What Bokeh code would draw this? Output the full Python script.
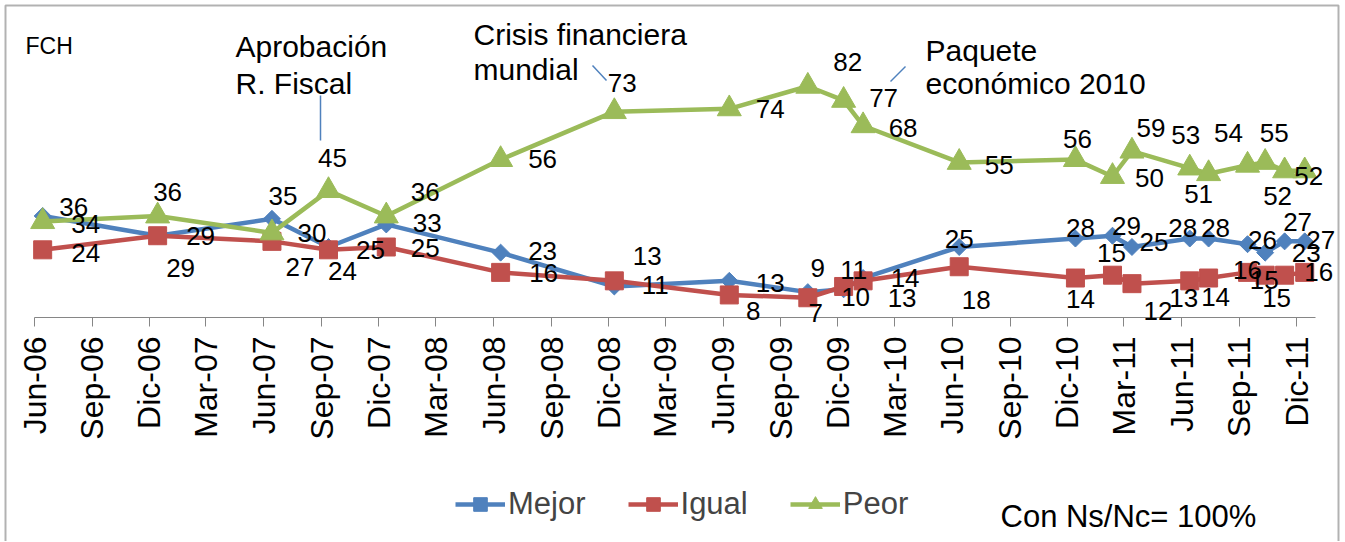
import math
import pandas as pd
from bokeh.plotting import figure
from bokeh.models import (Range1d, FixedTicker, ColumnDataSource, LabelSet, Label,
                          Legend, LegendItem, BoxAnnotation, Arrow)
from bokeh.core.properties import value
from bokeh.embed import file_html
from bokeh.resources import INLINE

# ---------------- data ----------------
dates = ["2006-06-14", "2006-12-14", "2007-06-14", "2007-09-12", "2007-12-13",
         "2008-06-12", "2008-12-10", "2009-06-11", "2009-10-14", "2009-12-10",
         "2010-01-10", "2010-06-12", "2010-12-14", "2011-02-11", "2011-03-14",
         "2011-06-14", "2011-07-14", "2011-09-14", "2011-10-12", "2011-11-12",
         "2011-12-14"]
mejor = [36, 29, 35, 25, 33, 23, 11, 13, 9, 10, 14, 25, 28, 29, 25, 28, 28, 26, 23, 27, 27]
igual = [24, 29, 27, 24, 25, 16, 13, 8, 7, 11, 13, 18, 14, 15, 12, 13, 14, 16, 15, 15, 16]
peor = [34, 36, 30, 45, 36, 56, 73, 74, 82, 77, 68, 55, 56, 50, 59, 53, 51, 54, 55, 52, 52]
series_names = ["Mejor", "Igual", "Peor"]
tick_labels = ["Jun-06", "Sep-06", "Dic-06", "Mar-07", "Jun-07", "Sep-07", "Dic-07",
               "Mar-08", "Jun-08", "Sep-08", "Dic-08", "Mar-09", "Jun-09", "Sep-09",
               "Dic-09", "Mar-10", "Jun-10", "Sep-10", "Dic-10", "Mar-11", "Jun-11",
               "Sep-11", "Dic-11"]
events = ["Aprobación\nR. Fiscal", "Crisis financiera\nmundial", "Paquete\neconómico 2010"]
corner_text = "FCH"
note_text = "Con Ns/Nc= 100%"

# ---------------- layout / style (not data) ----------------
# data-label offsets in pixels (dx right, dy down)
mejor_off = [(31, -9), (43, 0), (11, -23), (42, 3), (41, -1), (42, -2), (41, -1), (41, 2),
             (10, -24), (12, 8), (42, 0), (0, -8), (5, -11), (14, -10), (22, -5), (-7, -11),
             (7, -11), (15, -4), (41, 0), (13, -19), (16, -1)]
igual_off = [(43, 3), (23, 32), (28, 26), (14, 21), (39, 1), (43, 1), (33, -25), (24, 16),
             (8, 15), (10, -16), (39, 17), (17, 33), (5, 21), (-1, -22), (26, 27), (-6, 17),
             (7, 19), (0, -2), (-1, 5), (-8, 23), (14, 0)]
peor_off = [(43, 2), (10, -24), (40, 0), (4, -33), (39, -24), (42, -1), (8, -29), (41, 0),
            (40, -24), (40, -2), (40, 2), (40, 3), (2, -21), (37, 1), (19, -23), (-4, -33),
            (-10, 20), (-19, -32), (9, -29), (-7, 25), (4, 5)]

BLUE, RED, GREEN = "#4F81BD", "#C0504D", "#9BBB59"
FONT = "Liberation Sans"
W, H = 1344, 541
X0_PX, PX_PER_DAY = 34, 0.6282      # pixel of axis start, scale
Y0_PX, PX_PER_UNIT = 317, 2.82      # pixel of value 0, scale

start = pd.Timestamp("2006-06-01")
end = pd.Timestamp("2011-12-31")
xd = [(pd.Timestamp(d) - start).days for d in dates]

mon = {"Ene": 1, "Feb": 2, "Mar": 3, "Abr": 4, "May": 5, "Jun": 6, "Jul": 7,
       "Ago": 8, "Sep": 9, "Oct": 10, "Nov": 11, "Dic": 12}
tick_days = []
for lab in tick_labels:
    m, y = lab.split("-")
    tick_days.append((pd.Timestamp(2000 + int(y), mon[m], 1) - start).days)

x_range = Range1d(-X0_PX / PX_PER_DAY, (W - X0_PX) / PX_PER_DAY)
y_range = Range1d(-(H - Y0_PX) / PX_PER_UNIT, Y0_PX / PX_PER_UNIT)

p = figure(width=W, height=H, x_range=x_range, y_range=y_range,
           output_backend="svg", toolbar_location=None, y_axis_location=None, title=None,
           min_border=0)
p.xgrid.visible = False
p.ygrid.visible = False
p.outline_line_color = None
p.background_fill_color = "white"
p.border_fill_color = "white"

ax = p.xaxis[0]
ax.fixed_location = 0
ax.bounds = (0, (end - start).days)
ax.ticker = FixedTicker(ticks=tick_days)
ax.major_label_overrides = {d: lab for d, lab in zip(tick_days, tick_labels)}
ax.major_label_orientation = math.pi / 2
ax.major_tick_out = 9
ax.major_tick_in = 0
ax.minor_tick_line_color = None
ax.axis_line_color = "#868686"
ax.major_tick_line_color = "#868686"
ax.major_label_text_font = FONT
ax.major_label_text_font_size = "32px"
ax.major_label_text_color = "black"
ax.major_label_standoff = 10

items = []
for name, vals, col, marker, size, ang, off in [
        ("Mejor", mejor, BLUE, "square", 12, math.pi / 4, mejor_off),
        ("Igual", igual, RED, "square", 18, 0, igual_off),
        ("Peor", peor, GREEN, "triangle", 24, 0, peor_off)]:
    src = ColumnDataSource(dict(x=xd, y=vals, t=[str(v) for v in vals],
                                dx=[o[0] for o in off], dy=[-o[1] for o in off]))
    lr = p.line("x", "y", source=src, line_color=col, line_width=4.5)
    sr = p.scatter("x", "y", source=src, marker=marker, size=size, angle=ang,
                   fill_color=col, line_color=col)
    p.add_layout(LabelSet(x="x", y="y", text="t", x_offset="dx", y_offset="dy", source=src,
                          text_align="center", text_baseline="middle",
                          text_font=value(FONT), text_font_size="26px", text_color="black"))
    items.append(LegendItem(label=name, renderers=[lr, sr]))

legend = Legend(items=items, orientation="horizontal", location=(455, H - 522),
                glyph_width=50, glyph_height=34, label_text_font=FONT,
                label_text_font_size="31px", spacing=42, label_standoff=3,
                padding=0, margin=0, border_line_color=None, background_fill_alpha=0)
p.add_layout(legend, "center")

# event annotations (canvas px: left x, middle y of first line, line step)
ev_pos = [(235, 46, 37), (473, 34, 35), (925, 50, 33)]
for txt, (x0, y0, lh) in zip(events, ev_pos):
    for i, line in enumerate(txt.split("\n")):
        p.add_layout(Label(x=x0, y=y0 + i * lh, x_units="canvas", y_units="canvas", text=line,
                           text_font=FONT, text_font_size="30px", text_color="black",
                           text_baseline="middle"))
for (xa, ya, xb, yb) in [(320, 95, 320, 140), (592, 65, 606, 80), (890, 81, 905, 66)]:
    p.add_layout(Arrow(end=None, x_start=xa, y_start=ya, x_end=xb, y_end=yb,
                       start_units="canvas", end_units="canvas",
                       line_color=BLUE, line_width=1.5))

p.add_layout(Label(x=25, y=45, x_units="canvas", y_units="canvas", text=corner_text,
                   text_font=FONT, text_font_size="23px", text_color="black",
                   text_baseline="middle"))
p.add_layout(Label(x=1000, y=516, x_units="canvas", y_units="canvas", text=note_text,
                   text_font=FONT, text_font_size="31px", text_color="black",
                   text_baseline="middle"))

p.add_layout(BoxAnnotation(left=5, right=1338, top=5, bottom=H + 20,
                           left_units="canvas", right_units="canvas",
                           top_units="canvas", bottom_units="canvas",
                           fill_alpha=0, fill_color=None, line_color="black", line_width=2))

open("out.html", "w").write(file_html(p, INLINE))
